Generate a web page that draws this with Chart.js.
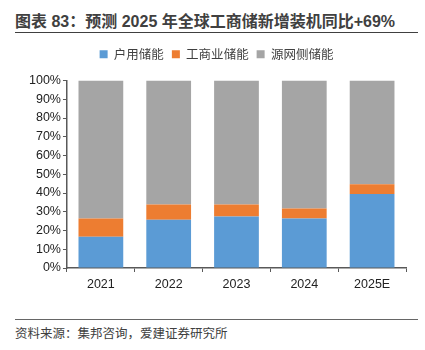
<!DOCTYPE html>
<html>
<head>
<meta charset="utf-8">
<script src="https://cdn.jsdelivr.net/npm/chart.js@4"></script>
<style>
  body { margin: 0; width: 425px; height: 350px; background: #fff; position: relative; overflow: hidden;
         font-family: "Liberation Sans", "Noto Sans CJK SC", sans-serif; }
  .title { position: absolute; left: 15px; top: 8px; font-size: 16px; font-weight: bold; color: #404040; white-space: nowrap; }
  .rule { position: absolute; left: 15px; width: 403px; height: 0; border-top: 1.5px solid #404040; }
  .source { position: absolute; left: 15px; top: 323px; font-size: 12.5px; color: #404040; font-family: "Noto Sans CJK SC", sans-serif; }
  .wrap { position: absolute; left: 0; top: 36px; width: 425px; height: 261px; }
</style>
</head>
<body>
<div class="title">图表 83：预测 2025 年全球工商储新增装机同比+69%</div>
<div class="rule" style="top:32px"></div>
<div class="wrap"><canvas id="chart"></canvas></div>
<div class="rule" style="top:319px; border-top-width:1px; border-color:#666"></div>
<div class="source">资料来源：集邦咨询，爱建证券研究所</div>
<script>
// categories and shares (%)
const years = ['2021', '2022', '2023', '2024', '2025E'];
const household = [16.7, 25.7, 27.5, 26.4, 39.5];
const commercial = [9.7, 8.2, 6.4, 5.4, 5.2];
const utility = [73.6, 66.1, 66.1, 68.2, 55.3];

// push the plot area a bit further below the legend
const legendGap = {
  id: 'legendGap',
  beforeInit(chart) {
    const fit = chart.legend.fit;
    chart.legend.fit = function () {
      fit.call(this);
      this.height += 10;
    };
  }
};

const ctx = document.getElementById('chart').getContext('2d');
new Chart(ctx, {
  type: 'bar',
  data: {
    labels: years,
    datasets: [
      { label: '户用储能', data: household, backgroundColor: '#5B9BD5' },
      { label: '工商业储能', data: commercial, backgroundColor: '#ED7D31' },
      { label: '源网侧储能', data: utility, backgroundColor: '#A5A5A5' }
    ]
  },
  options: {
    responsive: true,
    maintainAspectRatio: false,
    animation: false,
    layout: { padding: { left: 27, right: 19, top: 4, bottom: 0 } },
    datasets: { bar: { categoryPercentage: 0.66, barPercentage: 1 } },
    plugins: {
      legend: {
        position: 'top',
        labels: {
          boxWidth: 8, boxHeight: 8, padding: 8,
          color: '#404040',
          font: { size: 12.5, family: '"Noto Sans CJK SC", sans-serif' }
        }
      },
      tooltip: { enabled: false }
    },
    scales: {
      x: {
        stacked: true,
        offset: true,
        grid: { offset: true, drawOnChartArea: false, drawTicks: true, tickLength: 4, color: '#595959' },
        border: { display: true, color: '#595959', width: 1.5 },
        ticks: { color: '#222', padding: 5, font: { size: 12.5, family: '"Liberation Sans", sans-serif' } }
      },
      y: {
        stacked: true,
        min: 0, max: 100,
        grid: { drawOnChartArea: false, drawTicks: true, tickLength: 4, color: '#595959' },
        border: { display: true, color: '#595959', width: 1.5 },
        ticks: {
          stepSize: 10, color: '#222', padding: 2,
          font: { size: 12.5, family: '"Liberation Sans", sans-serif' },
          callback: v => v + '%'
        }
      }
    }
  },
  plugins: [legendGap]
});
</script>
</body>
</html>
